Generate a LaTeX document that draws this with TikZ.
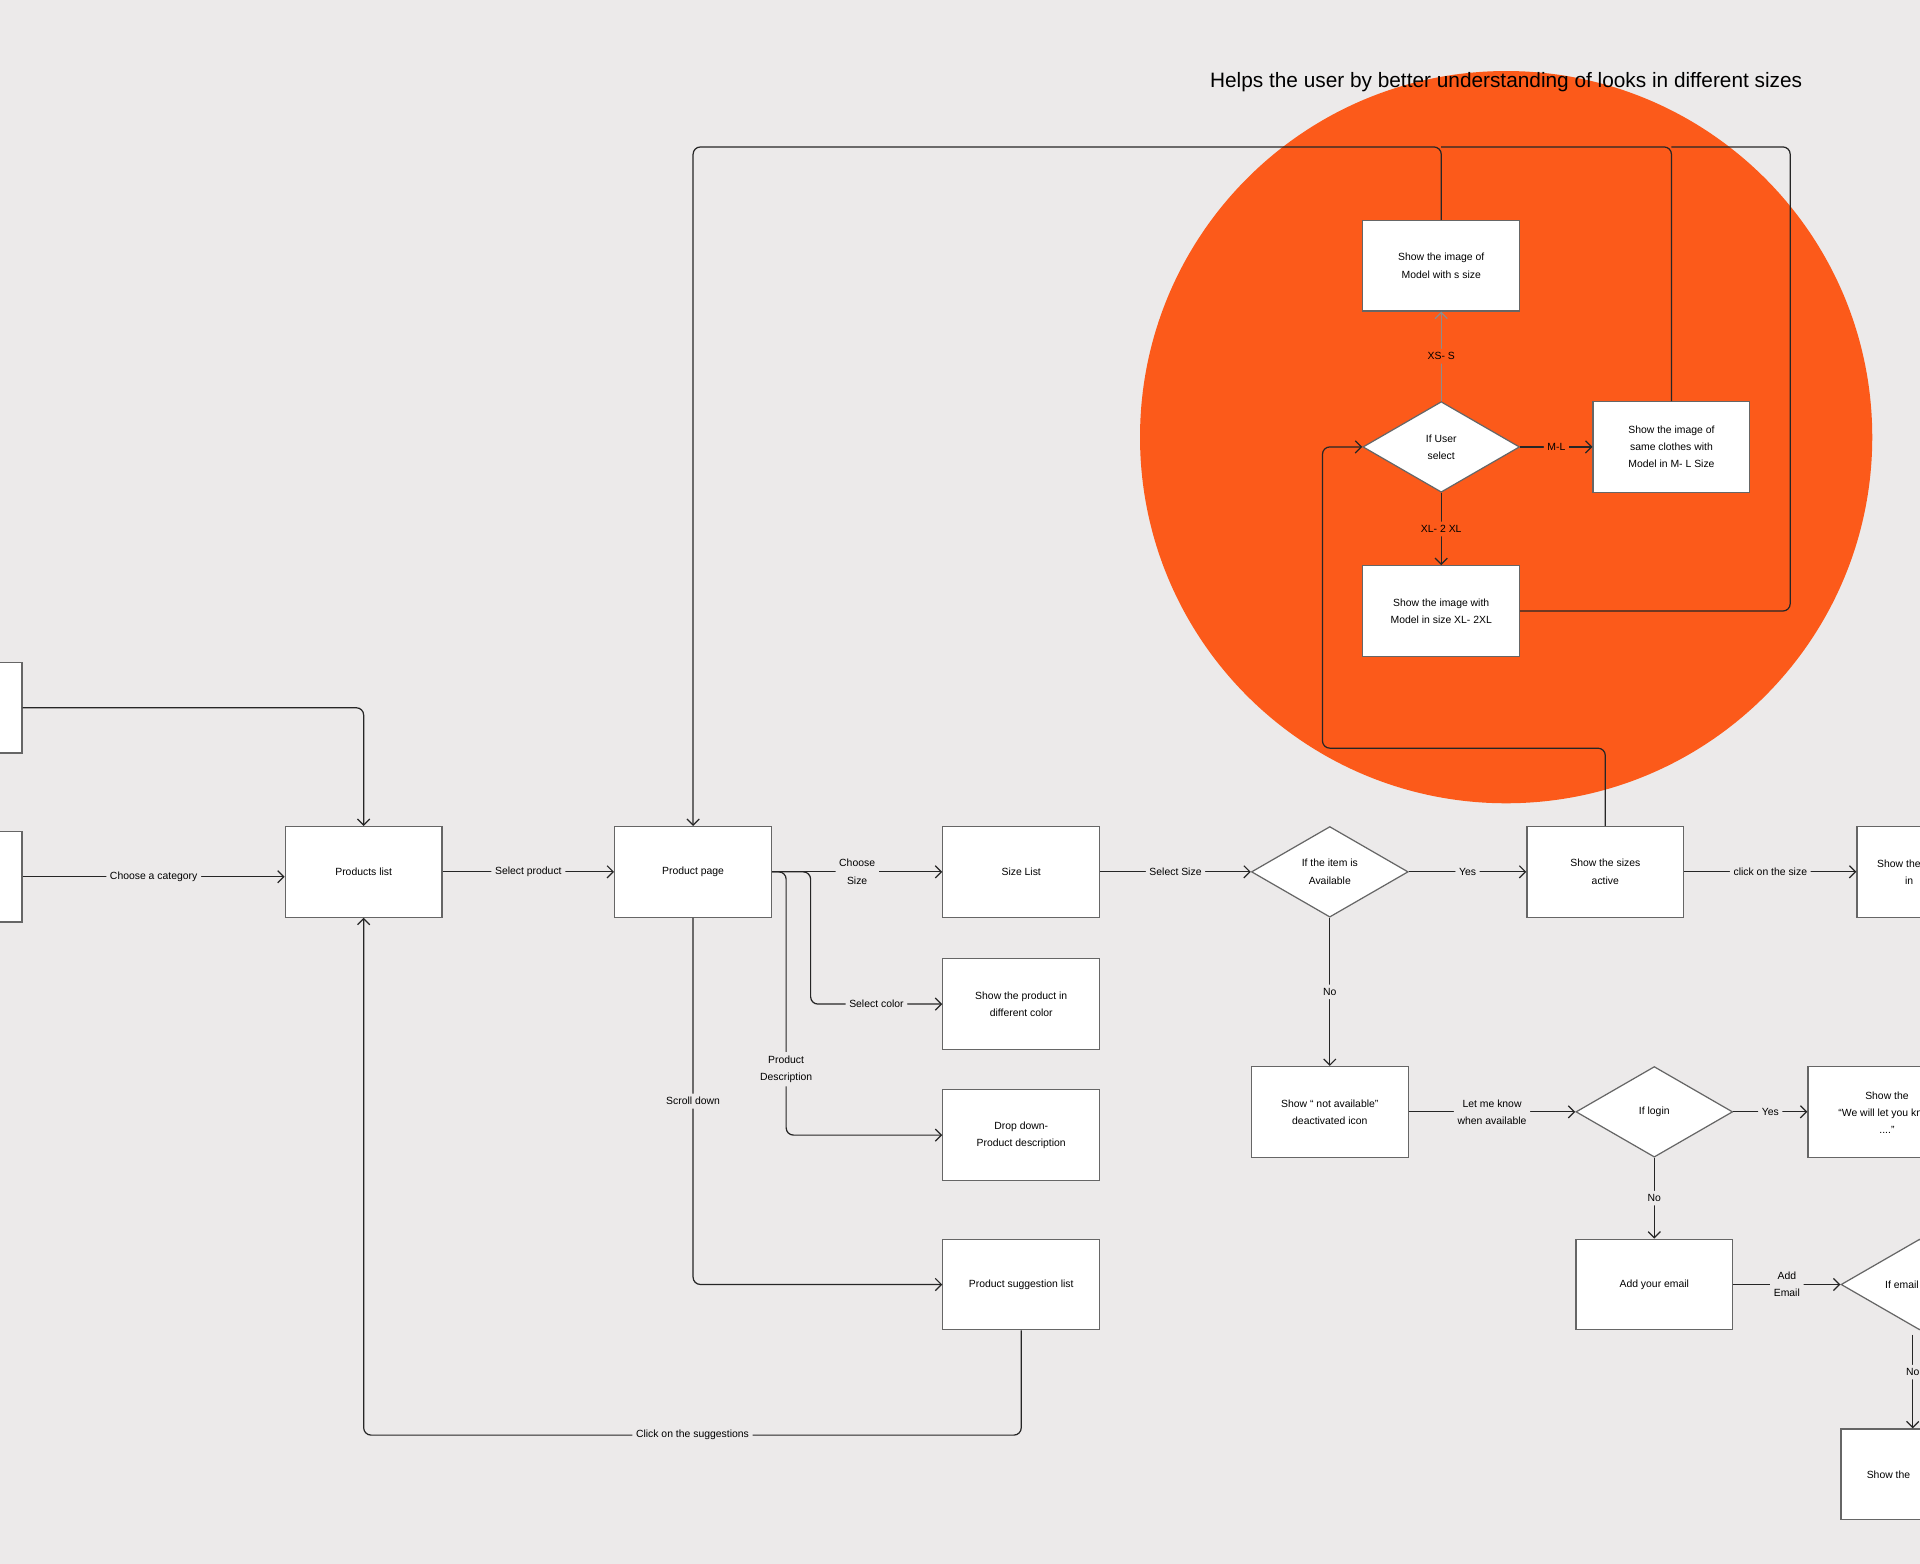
\documentclass[tikz,border=0pt]{standalone}
\usepackage{fontspec}
\setmainfont{Liberation Sans}
\usetikzlibrary{shapes.geometric}
\definecolor{bg}{HTML}{ECEAEA}
\definecolor{blob}{HTML}{FC5A1A}
\tikzset{
  box/.style={draw=black!60, fill=white, line width=1pt, minimum width=128pt, minimum height=74pt, align=center, font=\fontsize{8.5}{14}\selectfont},
  choice/.style={draw=black!60, fill=white, line width=1pt, diamond, aspect=1.73, minimum width=128pt, minimum height=74pt, inner sep=0pt, align=center, font=\fontsize{8.5}{14}\selectfont},
  link/.style={draw=black!85, line width=1pt, rounded corners=6pt, -{Straight Barb[length=5pt,width=10pt]}},
  say/.style={fill=bg, inner sep=3pt, align=center, font=\fontsize{8.5}{14}\selectfont},
  cut/.style={align=center, font=\fontsize{8.5}{14}\selectfont}
}
\usetikzlibrary{arrows.meta}
\begin{document}
\begin{tikzpicture}[x=1pt,y=-1pt]
\useasboundingbox (0,0) rectangle (1568,1277);
\fill[bg] (0,0) rectangle (1568,1277);
\clip (0,0) rectangle (1568,1277);

	\fill[blob] (1230,357) circle (299);
	\node[font=\fontsize{17}{20}\selectfont] (note) at (1230,67) {Helps the user by better understanding of looks in different sizes};

	% main row
	\node[box] (start1) at (-46,578) {};
	\node[box] (start2) at (-46,716) {};
	\node[box] (plist) at (297,712) {Products list};
	\node[box] (ppage) at (566,712) {Product page};
	\node[box] (slist) at (834,712) {Size List};
	\node[choice] (avail) at (1086,712) {If the item is\\Available};
	\node[box] (sactive) at (1311,712) {Show the sizes\\active};
	\node[box, anchor=west] (sizeimg) at (1516,712) {};
	\node[cut, align=right, anchor=east] (sizeimgtxt) at (1572,712) {Show the\\in\hspace*{6pt}};

	% product page branches
	\node[box] (pcolor) at (834,820) {Show the product in\\different color};
	\node[box] (pdesc) at (834,927) {Drop down-\\Product description};
	\node[box] (psugg) at (834,1049) {Product suggestion list};

	% not available
	\node[box] (nota) at (1086,908) {Show `` not available''\\deactivated icon};
	\node[choice] (login) at (1351,908) {If login};
	\node[box, anchor=west] (letyou) at (1476,908) {};
	\node[cut] (letyoutxt) at (1541,909) {Show the\\``We will let you know\\....''};
	\node[box] (email) at (1351,1049) {Add your email};
	\node[choice, anchor=west] (ifmail) at (1503,1049) {};
	\node[cut, anchor=west] (ifmailtxt) at (1536,1049) {If email};
	\node[box, anchor=west] (mailok) at (1503,1204) {};
	\node[cut, anchor=west] (mailoktxt) at (1521,1204) {Show the};

	% size cluster
	\node[box] (small) at (1177,217) {Show the image of\\Model with s size};
	\node[choice] (usel) at (1177,365) {If User\\select};
	\node[box] (medium) at (1365,365) {Show the image of\\same clothes with\\Model in M- L Size};
	\node[box] (large) at (1177,499) {Show the image with\\Model in size XL- 2XL};

	% connectors
	\draw[link] (start1.east |- 0,578) -- (297,578) -- (plist.north);
	\draw[link] (start2.east |- 0,716) -- node[say]{Choose a category} (plist.west |- 0,716);
	\draw[link] (plist) -- node[say]{Select product} (ppage);
	\draw[link] (ppage) -- node[say]{Choose\\Size} (slist);
	\draw[link] (ppage.east) -- (662,712) -- (662,820) -- node[say]{Select color} (pcolor.west);
	\draw[link] (ppage.east) -- (642,712) -- node[say, pos=0.75]{Product\\Description} (642,927) -- (pdesc.west);
	\draw[link] (ppage.south) -- node[say, pos=0.5]{Scroll down} (566,1049) -- (psugg.west);
	\draw[link] (psugg.south) -- (834,1172) -- node[say]{Click on the suggestions} (297,1172) -- (plist.south);
	\draw[link] (slist) -- node[say]{Select Size} (avail);
	\draw[link] (avail) -- node[say]{Yes} (sactive);
	\draw[link] (sactive) -- node[say]{click on the size} (sizeimg);
	\draw[link] (avail) -- node[say]{No} (nota);
	\draw[link] (nota) -- node[say]{Let me know\\when available} (login);
	\draw[link] (login) -- node[say]{Yes} (letyou);
	\draw[link] (login) -- node[say]{No} (email);
	\draw[link] (email) -- node[say]{Add\\Email} (ifmail);
	\draw[link] (1562,1090) -- node[say, pos=0.4]{No} (mailok.north -| 1562,0);

	\draw[link] (sactive.north) -- (1311,611) -- (1080,611) -- (1080,365) -- (usel.west);
	\draw[link, draw=black!45] (usel) -- node[say, fill=blob]{XS- S} (small);
	\draw[link] (usel) -- node[say, fill=blob]{M-L} (medium);
	\draw[link] (usel) -- node[say, fill=blob]{XL- 2 XL} (large);
	\draw[link] (small.north) -- (1177,120) -- (566,120) -- (ppage.north);
	\draw[rounded corners=6pt, line width=1pt, black!85] (medium.north) -- (1365,120) -- (1177,120);
	\draw[rounded corners=6pt, line width=1pt, black!85] (large.east) -- (1462,499) -- (1462,120) -- (1365,120);

\end{tikzpicture}
\end{document}
